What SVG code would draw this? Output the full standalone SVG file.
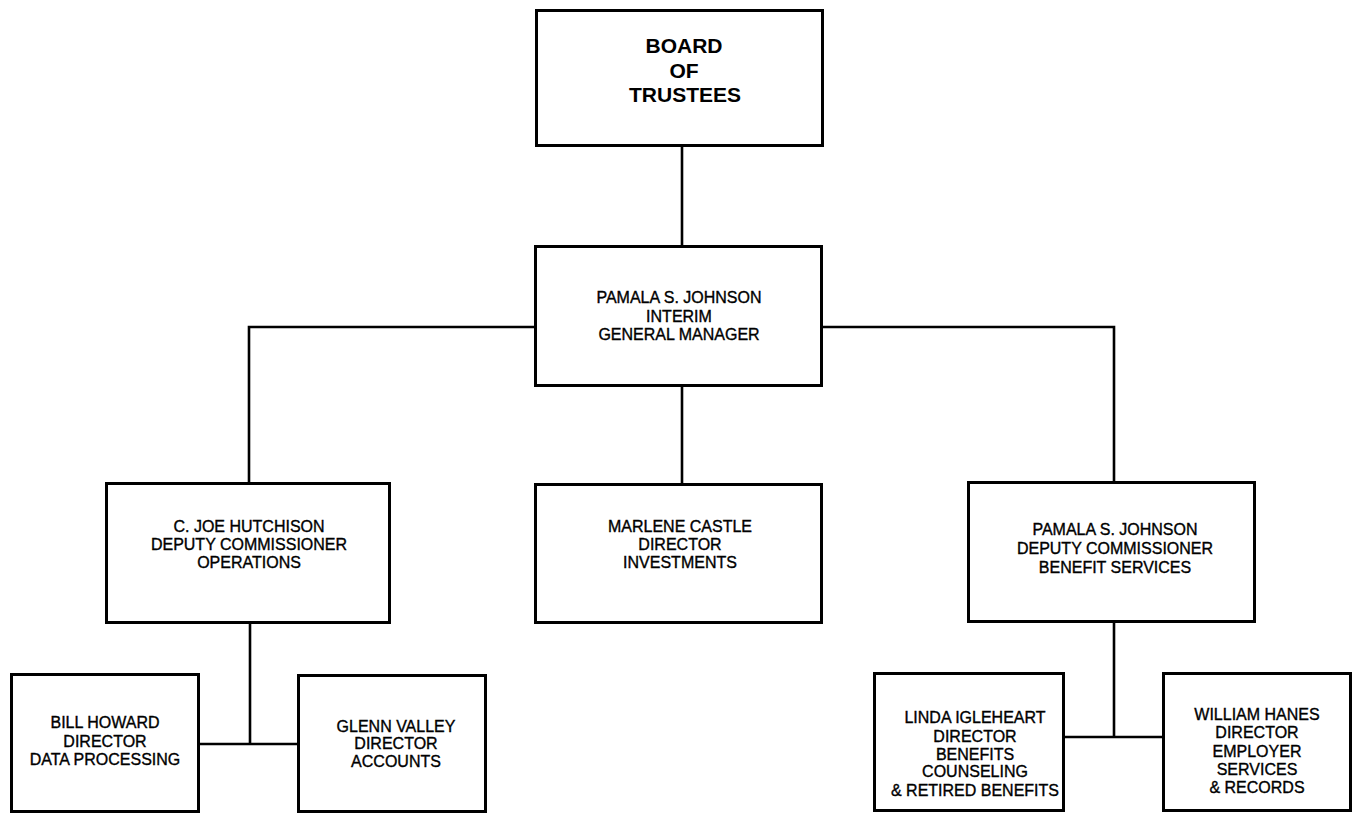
<svg xmlns="http://www.w3.org/2000/svg" width="1358" height="814" viewBox="0 0 1358 814">
<style>
.box{fill:#fff;stroke:#000;stroke-width:3}
.t{font-family:"Liberation Sans",Arial,sans-serif;font-size:16px;fill:#000;text-anchor:middle;stroke:#000;stroke-width:0.35}
.title{font-family:"Liberation Sans",Arial,sans-serif;font-size:21px;font-weight:bold;fill:#000;text-anchor:middle}
.c{fill:none;stroke:#000;stroke-width:2.6}
</style>
<rect width="1358" height="814" fill="#fff"/>
<g id="connectors">
<line class="c" x1="682" y1="147" x2="682" y2="246"/>
<polyline class="c" points="535,327 249,327 249,483"/>
<polyline class="c" points="822,327 1114,327 1114,482"/>
<line class="c" x1="682" y1="386" x2="682" y2="484"/>
<line class="c" x1="250" y1="623" x2="250" y2="744"/>
<line class="c" x1="199" y1="744" x2="298" y2="744"/>
<line class="c" x1="1114" y1="622" x2="1114" y2="737"/>
<line class="c" x1="1064" y1="737" x2="1163" y2="737"/>
</g>
<g id="board">
<rect class="box" x="536.5" y="10.5" width="286" height="135"/>
<text class="title" x="684" y="53">BOARD</text>
<text class="title" x="684" y="78">OF</text>
<text class="title" x="685" y="102">TRUSTEES</text>
</g>
<g id="general-manager">
<rect class="box" x="535.5" y="246.5" width="286" height="139"/>
<text class="t" x="679" y="303">PAMALA S. JOHNSON</text>
<text class="t" x="679" y="322">INTERIM</text>
<text class="t" x="679" y="340">GENERAL MANAGER</text>
</g>
<g id="marlene-castle">
<rect class="box" x="535.5" y="484.5" width="286" height="138"/>
<text class="t" x="680" y="532">MARLENE CASTLE</text>
<text class="t" x="680" y="550">DIRECTOR</text>
<text class="t" x="680" y="568">INVESTMENTS</text>
</g>
<g id="joe-hutchison">
<rect class="box" x="106.5" y="483.5" width="283" height="139"/>
<text class="t" x="249" y="532">C. JOE HUTCHISON</text>
<text class="t" x="249" y="550">DEPUTY COMMISSIONER</text>
<text class="t" x="249" y="568">OPERATIONS</text>
</g>
<g id="pamala-johnson-deputy">
<rect class="box" x="968.5" y="482.5" width="286" height="139"/>
<text class="t" x="1115" y="535">PAMALA S. JOHNSON</text>
<text class="t" x="1115" y="554">DEPUTY COMMISSIONER</text>
<text class="t" x="1115" y="573">BENEFIT SERVICES</text>
</g>
<g id="bill-howard">
<rect class="box" x="11.5" y="674.5" width="187" height="137"/>
<text class="t" x="105" y="728">BILL HOWARD</text>
<text class="t" x="105" y="747">DIRECTOR</text>
<text class="t" x="105" y="765">DATA PROCESSING</text>
</g>
<g id="glenn-valley">
<rect class="box" x="298.5" y="675.5" width="187" height="136"/>
<text class="t" x="396" y="732">GLENN VALLEY</text>
<text class="t" x="396" y="749">DIRECTOR</text>
<text class="t" x="396" y="767">ACCOUNTS</text>
</g>
<g id="linda-igleheart">
<rect class="box" x="874.5" y="673.5" width="189" height="137"/>
<text class="t" x="975" y="723">LINDA IGLEHEART</text>
<text class="t" x="975" y="742">DIRECTOR</text>
<text class="t" x="975" y="760">BENEFITS</text>
<text class="t" x="975" y="777">COUNSELING</text>
<text class="t" x="975" y="796">&amp; RETIRED BENEFITS</text>
</g>
<g id="william-hanes">
<rect class="box" x="1163.5" y="673.5" width="187" height="137"/>
<text class="t" x="1257" y="720">WILLIAM HANES</text>
<text class="t" x="1257" y="738">DIRECTOR</text>
<text class="t" x="1257" y="757">EMPLOYER</text>
<text class="t" x="1257" y="775">SERVICES</text>
<text class="t" x="1257" y="793">&amp; RECORDS</text>
</g>
</svg>
